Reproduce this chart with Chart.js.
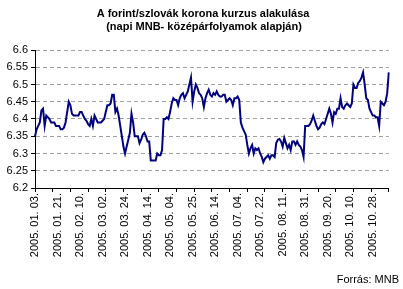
<!DOCTYPE html>
<html>
<head>
<meta charset="utf-8">
<script src="https://cdn.jsdelivr.net/npm/chart.js@4"></script>
<style>
html,body{margin:0;padding:0;background:#fff;}
#wrap{width:403px;height:289px;}
</style>
</head>
<body>
<div id="wrap"><canvas id="c" width="403" height="289"></canvas></div>
<script>
const titleLines = ["A forint/szlovák korona kurzus alakulása", "(napi MNB- középárfolyamok alapján)"];
const sourceText = "Forrás: MNB";
const tickLabels = ["2005. 01. 03.","2005. 01. 21.","2005. 02. 10.","2005. 03. 02.","2005. 03. 24.","2005. 04. 14.","2005. 05. 04.","2005. 05. 25.","2005. 06. 14.","2005. 07. 04.","2005. 07. 22.","2005. 08. 11.","2005. 08. 31.","2005. 09. 20.","2005. 10. 10.","2005. 10. 28."];
const labelEvery = 14;
const yTicks = [6.2, 6.25, 6.3, 6.35, 6.4, 6.45, 6.5, 6.55, 6.6];
const rate = [
6.35, 6.37, 6.38, 6.39, 6.425, 6.43, 6.38, 6.41, 6.405, 6.40,
6.39, 6.39, 6.39, 6.38, 6.38, 6.38, 6.37, 6.37, 6.375, 6.39,
6.42, 6.45, 6.44, 6.415, 6.41, 6.41, 6.41, 6.41, 6.42, 6.42,
6.41, 6.40, 6.395, 6.385, 6.38, 6.40, 6.38, 6.41, 6.40, 6.39,
6.39, 6.39, 6.395, 6.40, 6.42, 6.44, 6.44, 6.445, 6.47, 6.47,
6.42, 6.43, 6.41, 6.38, 6.35, 6.32, 6.30, 6.32, 6.34, 6.36,
6.415, 6.39, 6.35, 6.35, 6.35, 6.33, 6.34, 6.355, 6.36, 6.35,
6.335, 6.335, 6.28, 6.28, 6.28, 6.28,
6.30, 6.295, 6.295, 6.31, 6.40, 6.40, 6.405, 6.40, 6.42, 6.445,
6.46, 6.455, 6.455, 6.44, 6.46, 6.47, 6.475, 6.46, 6.47, 6.48,
6.50, 6.52, 6.45, 6.48, 6.50, 6.49, 6.475, 6.47, 6.46, 6.435,
6.46, 6.475, 6.485, 6.47, 6.465, 6.475, 6.47, 6.48, 6.47, 6.465,
6.465, 6.47, 6.47, 6.45, 6.455, 6.46, 6.455, 6.44, 6.46, 6.46,
6.465, 6.455, 6.39, 6.375, 6.365, 6.355, 6.325, 6.30, 6.315, 6.325,
6.30, 6.315, 6.31, 6.315, 6.30, 6.29, 6.275, 6.285, 6.29, 6.295,
6.285, 6.295, 6.295, 6.29,
6.33, 6.34, 6.342, 6.335, 6.32, 6.345, 6.33, 6.315, 6.325, 6.31,
6.335, 6.335, 6.325, 6.335, 6.325, 6.32, 6.31, 6.29, 6.38, 6.38,
6.38, 6.385, 6.395, 6.41, 6.395, 6.38, 6.37, 6.375, 6.385, 6.39,
6.385, 6.40, 6.415, 6.43, 6.415, 6.39, 6.42, 6.415, 6.43, 6.43,
6.46, 6.435, 6.43, 6.44, 6.445, 6.44, 6.435, 6.445, 6.50, 6.49,
6.49, 6.505, 6.51, 6.52, 6.535, 6.50, 6.46, 6.455, 6.43, 6.42,
6.41, 6.41, 6.405, 6.405, 6.38, 6.45, 6.445, 6.44, 6.45, 6.475,
6.535
];
const categories = rate.map((v, i) => (i % labelEvery === 0 && tickLabels[i / labelEvery]) ? tickLabels[i / labelEvery] : '');
const FONT = '"Liberation Sans", Arial, sans-serif';

const textPlugin = {
  id: 'texts',
  afterDraw(chart) {
    const c = chart.ctx;
    c.save();
    c.fillStyle = '#000';
    c.textBaseline = 'alphabetic';
    c.textAlign = 'center';
    c.font = 'bold 11px ' + FONT;
    c.fillText(titleLines[0], 203, 17);
    c.fillText(titleLines[1], 204, 30);
    c.font = '11px ' + FONT;
    c.textAlign = 'right';
    c.fillText(sourceText, 399, 283);
    c.restore();
  }
};

new Chart(document.getElementById('c'), {
  type: 'line',
  data: {
    labels: categories,
    datasets: [{
      data: rate,
      borderColor: '#000080',
      borderWidth: 2,
      pointRadius: 0,
      tension: 0,
      fill: false
    }]
  },
  options: {
    responsive: false,
    animation: false,
    events: [],
    layout: { padding: { top: 50, right: 8, left: 0, bottom: 0 } },
    plugins: { legend: { display: false }, title: { display: false }, tooltip: { enabled: false } },
    scales: {
      x: {
        type: 'category',
        offset: false,
        afterFit: (s) => { s.height = 101; },
        border: { display: true, color: '#000', width: 1 },
        grid: {
          drawOnChartArea: false,
          drawTicks: true,
          tickLength: 4,
          tickColor: (ctx) => (ctx.index % 11 === 0 ? '#000' : 'rgba(0,0,0,0)')
        },
        ticks: {
          autoSkip: false,
          maxRotation: 90,
          minRotation: 90,
          padding: 1,
          color: '#000',
          font: { family: FONT, size: 11 },
          callback: function (val, idx) { return categories[idx]; }
        }
      },
      y: {
        min: 6.2,
        max: 6.6,
        afterFit: (s) => { s.width = 35; },
        afterBuildTicks: (s) => { s.ticks = yTicks.map(v => ({ value: v })); },
        border: { display: true, color: '#000', width: 1, dash: [4, 3] },
        grid: { color: '#a0a0a0', lineWidth: 1, tickColor: '#000', tickLength: 4 },
        ticks: {
          padding: 3,
          color: '#000',
          font: { family: FONT, size: 11 },
          callback: (v) => String(+Number(v).toFixed(2))
        }
      }
    }
  },
  plugins: [textPlugin]
});
</script>
</body>
</html>
